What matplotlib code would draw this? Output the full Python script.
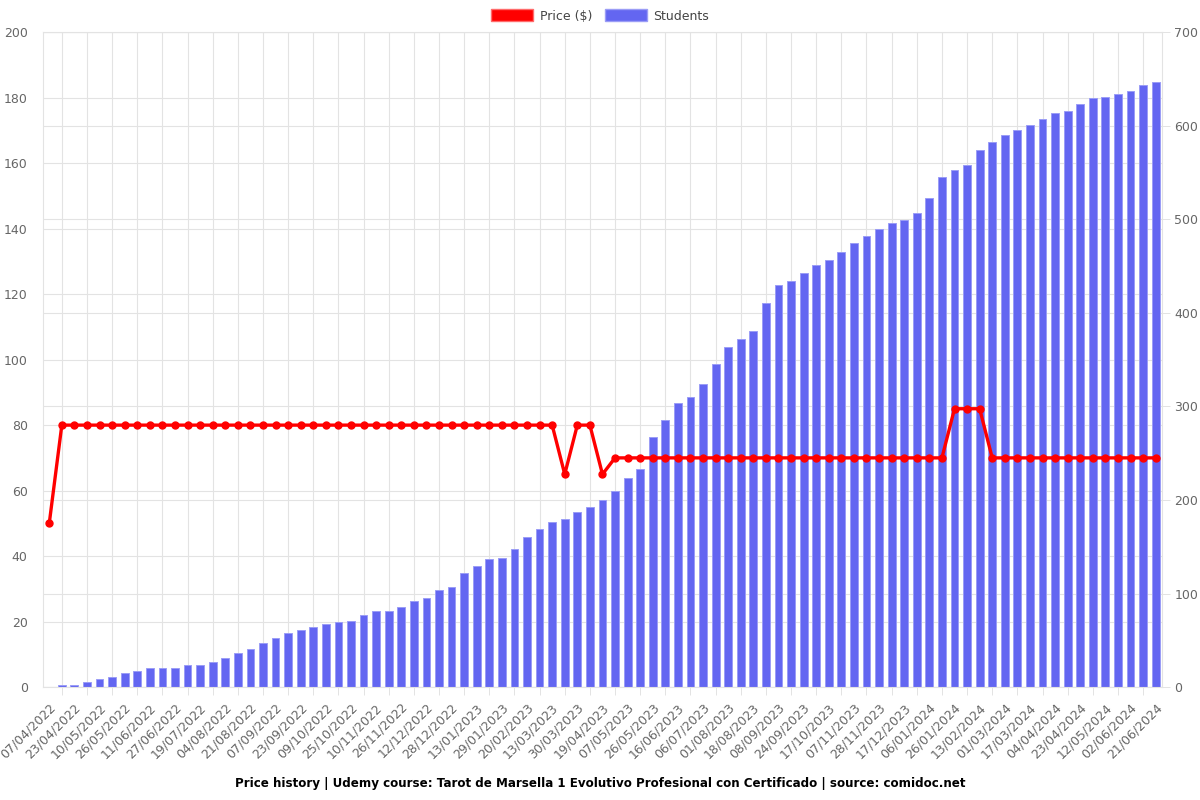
#!/usr/bin/env python3

import matplotlib
matplotlib.use('Agg')
import matplotlib.pyplot as plt
import matplotlib.transforms as mtransforms
from matplotlib.patches import Patch
import numpy as np

# Tick labels (one shown for every second data point)
tick_labels = [
    '07/04/2022', '23/04/2022', '10/05/2022', '26/05/2022', '11/06/2022', '27/06/2022',
    '19/07/2022', '04/08/2022', '21/08/2022', '07/09/2022', '23/09/2022', '09/10/2022',
    '25/10/2022', '10/11/2022', '26/11/2022', '12/12/2022', '28/12/2022', '13/01/2023',
    '29/01/2023', '20/02/2023', '13/03/2023', '30/03/2023', '19/04/2023', '07/05/2023',
    '26/05/2023', '16/06/2023', '06/07/2023', '01/08/2023', '18/08/2023', '08/09/2023',
    '24/09/2023', '17/10/2023', '07/11/2023', '28/11/2023', '17/12/2023', '06/01/2024',
    '26/01/2024', '13/02/2024', '01/03/2024', '17/03/2024', '04/04/2024', '23/04/2024',
    '12/05/2024', '02/06/2024', '21/06/2024',
]

# Price ($), one value per snapshot
price = [50] + [80] * 40 + [65, 80, 80, 65] + [70] * 27 + [85, 85, 85] + [70] * 14

# Students, one value per snapshot
students = [
    0, 2, 2, 6, 9, 11, 15, 17, 20, 20,
    21, 24, 24, 27, 31, 37, 41, 47, 53, 58,
    61, 64, 67, 70, 71, 77, 81, 81, 86, 92,
    95, 104, 107, 122, 129, 137, 138, 148, 161, 169,
    176, 180, 187, 193, 200, 210, 223, 233, 267, 285,
    304, 310, 324, 345, 363, 372, 381, 411, 430, 434,
    442, 451, 456, 465, 475, 482, 490, 496, 499, 507,
    523, 545, 553, 558, 574, 582, 590, 595, 601, 607,
    613, 616, 623, 629, 631, 634, 637, 643, 647,
]

x = np.arange(len(students))

grid_color = '#e3e3e3'
text_color = '#666666'

fig, ax_s = plt.subplots(figsize=(12, 8), dpi=100)
fig.subplots_adjust(left=0.0358, right=0.9683, top=0.96, bottom=0.141)
ax_p = ax_s.twinx()

# students: bars, axis on the right, bottom layer
ax_s.bar(x, students, width=0.62, color='#6366F1', edgecolor='#9b9df6', linewidth=0.7, zorder=2)
ax_s.set_ylim(0, 700)
ax_s.set_yticks(range(0, 701, 100))
ax_s.yaxis.tick_right()
ax_s.tick_params(axis='y', length=6, width=0.7, color=grid_color, pad=3,
                 labelsize=9, labelcolor=text_color)
ax_s.set_xlim(-0.5, len(students) - 0.5)
ax_s.set_xticks(x[::2])
ax_s.set_xticklabels(tick_labels, rotation=45, ha='right', va='center', rotation_mode='anchor')
ax_s.set_xticks(x[1::2], minor=True)
ax_s.tick_params(axis='x', which='major', length=0, pad=13, labelsize=9, labelcolor=text_color)
ax_s.tick_params(axis='x', which='minor', length=6, width=0.7, color=grid_color)
ax_s.set_axisbelow(True)
ax_s.grid(True, axis='y', color=grid_color, linewidth=0.8)
ax_s.grid(True, axis='x', which='minor', color=grid_color, linewidth=0.8)
for sp in ax_s.spines.values():
    sp.set_color(grid_color)

# price gridlines drawn under the bars, placed with the price scale
price_ticks = range(0, 201, 20)
blend = mtransforms.blended_transform_factory(ax_s.transAxes, ax_p.transData)
for v in price_ticks:
    ax_s.plot([0, 1], [v, v], transform=blend, color=grid_color, linewidth=0.8, zorder=0.5)

# price: line, axis on the left, top layer
ax_p.plot(x, price, color='#FF0000', linewidth=2.4, marker='o', markersize=5, zorder=3)
ax_p.set_ylim(0, 200)
ax_p.set_yticks(price_ticks)
ax_p.yaxis.tick_left()
ax_p.tick_params(axis='y', length=0, pad=11, labelsize=9, labelcolor=text_color)
for sp in ax_p.spines.values():
    sp.set_visible(False)

# shift rotated date labels slightly right, like the original
shift = mtransforms.ScaledTranslation(3 / 72, 0, fig.dpi_scale_trans)
for lbl in ax_s.get_xticklabels():
    lbl.set_transform(lbl.get_transform() + shift)

handles = [Patch(facecolor='#FF0000', edgecolor='#ff6b6b', label='Price ($)'),
           Patch(facecolor='#6366F1', edgecolor='#9b9df6', label='Students')]
fig.legend(handles=handles, loc='center', bbox_to_anchor=(0.5, 0.98), ncol=2, frameon=False,
           fontsize=9, handlelength=3.4, handleheight=1.1, handletextpad=0.5,
           columnspacing=1.0, labelcolor='#444444')

fig.text(0.5, 0.021, 'Price history | Udemy course: Tarot de Marsella 1 Evolutivo Profesional '
         'con Certificado | source: comidoc.net', ha='center', va='center',
         fontsize=8.6, fontweight='bold')

fig.savefig('out.png', dpi=100)
